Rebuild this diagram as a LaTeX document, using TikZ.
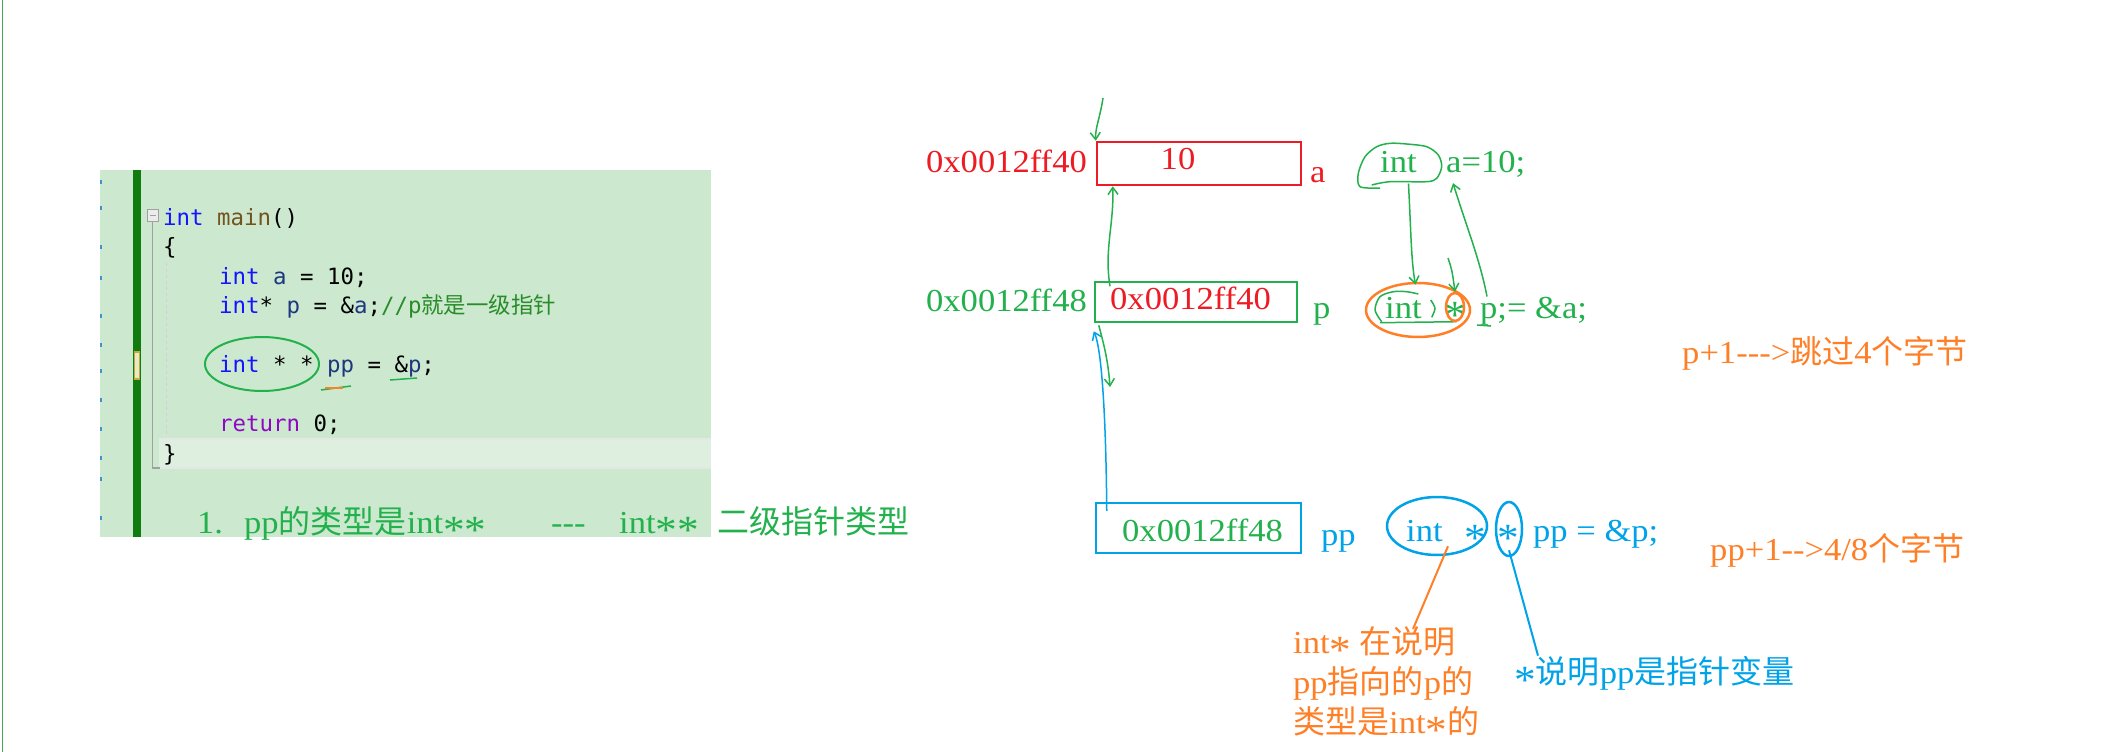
\documentclass[tikz,border=0pt]{standalone}
\usepackage{fontspec}
\setmainfont{Liberation Serif}[FakeStretch=1.08]
\newfontfamily\cjkfont{Noto Sans CJK SC}
\newfontfamily\codefont{DejaVu Sans Mono}
\usepackage{tikz}
\usetikzlibrary{shapes.geometric, arrows.meta, positioning}
\definecolor{panelgreen}{RGB}{204,232,207}
\definecolor{linegreen}{RGB}{222,239,224}
\definecolor{bandline}{RGB}{228,232,228}
\definecolor{bargreen}{RGB}{16,124,16}
\definecolor{markyellow}{RGB}{200,168,56}
\definecolor{markfill}{RGB}{226,236,200}
\definecolor{tickblue}{RGB}{60,150,200}
\definecolor{foldgray}{RGB}{160,160,160}
\definecolor{guidepink}{RGB}{222,200,212}
\definecolor{edgegreen}{RGB}{70,170,80}
\definecolor{kwblue}{RGB}{20,20,255}
\definecolor{fnbrown}{RGB}{116,83,31}
\definecolor{varblue}{RGB}{31,55,127}
\definecolor{retpurple}{RGB}{143,8,196}
\definecolor{cmtgreen}{RGB}{40,140,40}
\definecolor{pred}{RGB}{237,28,36}
\definecolor{pgreen}{RGB}{34,177,76}
\definecolor{pblue}{RGB}{0,162,232}
\definecolor{porange}{RGB}{255,127,39}
\newcommand{\zh}[1]{{\cjkfont #1}}
\newcommand{\pstar}{\raisebox{-10pt}{\fontsize{40}{40}\selectfont *}}
\tikzset{
  note/.style={inner sep=0pt, font=\fontsize{32}{40}\selectfont},
  codeline/.style={anchor=base west, inner sep=0pt, font=\codefont\fontsize{22.4}{29}\selectfont},
  cell/.style={draw, line width=2.5pt, inner sep=0pt},
  oval/.style={ellipse, draw, line width=2.5pt, inner sep=0pt},
  garrow/.style={pgreen, line width=1.5pt, -{Straight Barb[length=7pt,width=10pt]}},
  barrow/.style={pblue, line width=1.5pt, -{Straight Barb[length=7pt,width=10pt]}}
}

\begin{document}
\begin{tikzpicture}[x=1pt, y=-1pt]
    \useasboundingbox (0,0) rectangle (2104,752);
    \fill[white] (0,0) rectangle (2104,752);
    \draw[edgegreen, line width=1.5pt] (2.5,0) -- (2.5,752);

    % Code panel
    \fill[panelgreen] (100,170) rectangle (711,537);
    \fill[linegreen] (159,439) rectangle (711,468);
    \draw[bandline, line width=1.5pt] (159,439) -- (711,439) (159,468) -- (711,468);
    \fill[bargreen] (133,170) rectangle (141,537);
    \draw[markyellow, fill=markfill, line width=1.2pt] (134.5,352) rectangle (139.5,379);
    \foreach \t in {180,206,245,276,314,343,369,398,427,456,477,516}
        \draw[tickblue, line width=1.5pt] (101,\t) -- ++(0,4);
    \draw[foldgray, fill=gray!15, line width=1pt] (147,209) rectangle (158,221);
    \draw[foldgray, line width=1pt] (149.5,215) -- (155.5,215);
    \draw[foldgray, line width=1.2pt] (152.5,221) -- (152.5,468) -- (160,468);
    \draw[guidepink, dashed, line width=1pt] (166,263) -- (166,437);

    \foreach \i/\x/\txt in {
        0/163/{\textcolor{kwblue}{int} \textcolor{fnbrown}{main}()},
        1/163/{\{},
        2/219/{\textcolor{kwblue}{int} \textcolor{varblue}{a} = 10;},
        3/219/{\textcolor{kwblue}{int}* \textcolor{varblue}{p} = \&\textcolor{varblue}{a};\textcolor{cmtgreen}{//p\zh{就是一级指针}}},
        5/219/{\textcolor{kwblue}{int} * * \textcolor{varblue}{pp} = \&\textcolor{varblue}{p};},
        7/219/{\textcolor{retpurple}{return} 0;},
        8/163/{\}}
    } {
        \node[codeline] (code\i) at (\x,{225+29.5*\i}) {\txt};
    }
    \node[oval, draw=pgreen, line width=2pt, minimum width=114pt, minimum height=54pt] (ringPtr) at (262,364) {};
    \draw[pgreen, line width=1.5pt] (321,390) -- (351,386);
    \draw[porange, line width=2pt] (325,388) -- (343,388);
    \draw[pgreen, line width=1.5pt] (390,380) -- (417,378);

    \node[note, text=pgreen, anchor=base west] (tip1) at (197,533) {1.};
    \node[note, text=pgreen, anchor=base west] (tipType) at (244,533) {pp\zh{的类型是}int\pstar\pstar};
    \node[note, text=pgreen, anchor=base west] (tipDash) at (551,533) {-{}-{}-};
    \node[note, text=pgreen, anchor=base west] (tipInt) at (619,533) {int\pstar\pstar};
    \node[note, text=pgreen, anchor=base west] (tipKind) at (717,533) {\zh{二级指针类型}};

    % Memory cells
    \node[note, text=pred, anchor=base east] (addrA) at (1087,172) {0x0012ff40};
    \node[cell, draw=pred, minimum width=204pt, minimum height=43pt] (boxA) at (1199,163.5) {};
    \node[note, text=pred, anchor=base] (valA) at (1178,169) {10};
    \node[note, text=pred, anchor=base west] (nameA) at (1310,182) {a};

    \node[note, text=pgreen, anchor=base east] (addrP) at (1087,311) {0x0012ff48};
    \node[cell, draw=pgreen, minimum width=202pt, minimum height=40pt] (boxP) at (1196,302) {};
    \node[note, text=pred, anchor=base west] (valP) at (1110,309) {0x0012ff40};
    \node[note, text=pgreen, anchor=base west] (nameP) at (1313,318) {p};

    \node[cell, draw=pblue, minimum width=205pt, minimum height=50pt] (boxPP) at (1198.5,528) {};
    \node[note, text=pgreen, anchor=base west] (valPP) at (1122,541) {0x0012ff48};
    \node[note, text=pblue, anchor=base west] (namePP) at (1321,545) {pp};

    % Declarations
    \node[note, text=pgreen, anchor=base west] (int1) at (1380,172) {int};
    \node[note, text=pgreen, anchor=base west] (var1) at (1446,172) {a=10;};
    \node[note, text=pgreen, anchor=base west] (int2) at (1385,318) {int};
    \node[note, text=pgreen, anchor=base] (star2) at (1455,318) {\pstar};
    \node[note, text=pgreen, anchor=base west] (p2) at (1480,318) {p;= \&a;};
    \node[note, text=pblue, anchor=base west] (int3) at (1406,541) {int};
    \node[note, text=pblue, anchor=base] (star3a) at (1475,541) {\pstar};
    \node[note, text=pblue, anchor=base] (star3b) at (1508,541) {\pstar};
    \node[note, text=pblue, anchor=base west] (pp3) at (1533,541) {pp = \&p;};

    \draw[pgreen, line width=1.5pt] plot[smooth] coordinates {(1380,188) (1360,186.7) (1358.3,173.3) (1365,156.7) (1376.7,146.7) (1390,143.3) (1406.7,144) (1426.7,146.7) (1438.3,155) (1441.7,166.7) (1436.7,178.3) (1426.7,181.7) (1390,181.7) (1371.7,185)};
    \draw[pgreen, line width=1.5pt] plot[smooth] coordinates {(1381.7,321.7) (1375,310) (1380,296.7) (1393.3,291.7) (1406.7,291.7) (1418.3,294)};
    \draw[pgreen, line width=1.5pt] plot[smooth] coordinates {(1430.7,300) (1435,308.3) (1431.7,317.3)};
    \draw[pgreen, line width=1.5pt] (1380,322.7) -- (1456.7,321.7);
    \draw[pgreen, line width=1.5pt] ([xshift=-3pt]p2.south west) -- ++(14,1);

    \node[oval, draw=porange, minimum width=104pt, minimum height=54pt] (ovP) at (1418,310) {};
    \node[oval, draw=porange, minimum width=18pt, minimum height=28pt] (ovStarP) at (1455,307) {};
    \node[oval, draw=pblue, minimum width=100pt, minimum height=58pt] (ovPP) at (1437,526) {};
    \node[oval, draw=pblue, minimum width=26pt, minimum height=54pt] (ovStarPP) at (1509,529) {};

    % Notes
    \node[note, text=porange, anchor=north west, align=left] (why) at (1293,626)
        {int\pstar{} \zh{在说明}\\pp\zh{指向的}p\zh{的}\\\zh{类型是}int\pstar\zh{的}};
    \node[note, text=pblue, anchor=base west] (whyStar) at (1514,683) {\pstar\zh{说明}pp\zh{是指针变量}};
    \node[note, text=porange, anchor=base west] (stepP) at (1682,363) {p+1-{}-{}->\zh{跳过}4\zh{个字节}};
    \node[note, text=porange, anchor=base west] (stepPP) at (1710,560) {pp+1-{}->4/8\zh{个字节}};

    % Connectors
    \coordinate (aboveA) at (1103,98);
    \draw[garrow] (aboveA) .. controls (1100,118) and (1095,128) .. (boxA.north west);
    \draw[garrow] (valP.north west) .. controls (1104,250) and (1114,225) .. ([xshift=17pt]boxA.south west);
    \draw[barrow] ([xshift=12pt,yshift=-9pt]boxPP.north west) .. controls (1106,420) and (1102,350) .. ([yshift=-8pt]boxP.south west);
    \coordinate (belowP) at (1110,387);
    \draw[garrow] ([xshift=5pt,yshift=-2pt]boxP.south west) .. controls (1104,345) and (1108,360) .. (belowP);
    \draw[garrow] ([xshift=10pt,yshift=-11pt]int1.south) .. controls (1411,230) and (1411,260) .. ([xshift=12pt,yshift=12pt]int2.north);
    \coordinate (aboveStar) at (1448,258);
    \draw[garrow] (aboveStar) .. controls (1452,270) .. (ovStarP.north);
    \draw[garrow] ([xshift=7pt]p2.north west) .. controls (1480,260) and (1466,225) .. ([xshift=7pt,yshift=-6pt]var1.south west);
    \draw[porange, line width=2pt] ([xshift=11pt,yshift=10pt]ovPP.south) -- ([xshift=120pt,yshift=-3pt]why.north west);
    \draw[pblue, line width=2pt] ([yshift=7pt]ovStarPP.south) -- ([xshift=24pt]whyStar.north west);
\end{tikzpicture}
\end{document}
